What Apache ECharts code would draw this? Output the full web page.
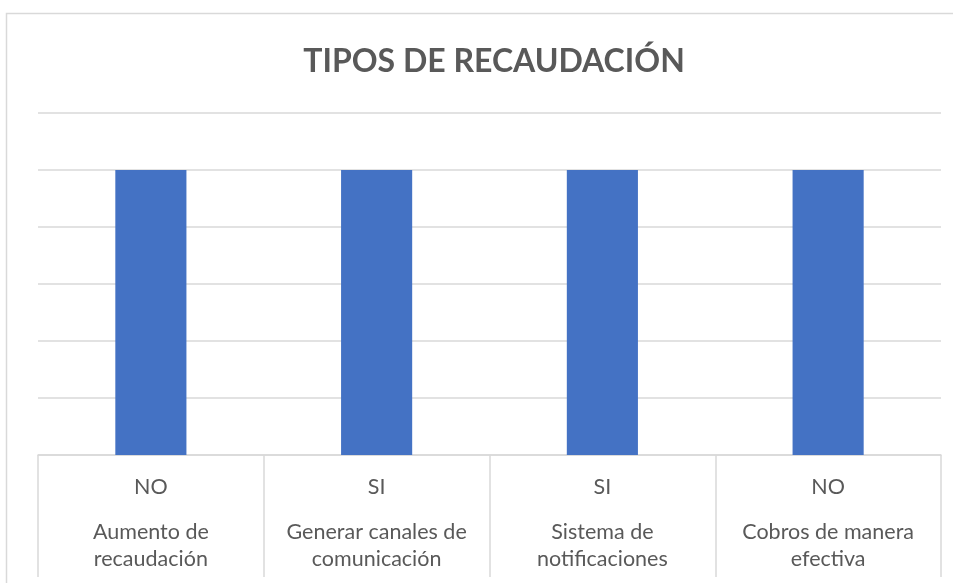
<!DOCTYPE html>
<html>
<head>
<meta charset="utf-8">
<style>
  html, body { margin: 0; padding: 0; background: #fff; }
  #chart { width: 953px; height: 583px; }
</style>
<script src="https://cdn.jsdelivr.net/npm/echarts@6/dist/echarts.min.js"></script>
</head>
<body>
<div id="chart"></div>
<script>
  // datos del gráfico
  var titleText = 'TIPOS DE RECAUDACIÓN'
  var categories = ['Aumento de\nrecaudación', 'Generar canales de\ncomunicación', 'Sistema de\nnotificaciones', 'Cobros de manera\nefectiva']
  var answers = ['NO', 'SI', 'SI', 'NO']
  var values = [1, 1, 1, 1]

  var gray = '#595959'
  var lineGray = '#d9d9d9'

  var chart = echarts.init(document.getElementById('chart'))
  chart.setOption({
    animation: false,
    title: {
      text: titleText,
      left: 489,
      top: 41,
      textAlign: 'center',
      textStyle: {
        fontFamily: 'Lato',
        fontWeight: 'bold',
        fontSize: 32,
        color: gray
      }
    },
    graphic: [{
      type: 'rect',
      shape: { x: 6.5, y: 13.5, width: 1000, height: 600 },
      style: { fill: 'none', stroke: lineGray, lineWidth: 1.5 },
      silent: true
    }],
    grid: {
      left: 38,
      right: 12,
      top: 113,
      bottom: 128
    },
    xAxis: {
      type: 'category',
      data: categories,
      axisLine: {
        show: true,
        lineStyle: { color: lineGray, width: 1.5 }
      },
      axisTick: {
        show: true,
        interval: 0,
        length: 122,
        lineStyle: { color: lineGray, width: 1.5 }
      },
      axisLabel: {
        interval: 0,
        margin: 0,
        formatter: function (value, idx) {
          return '{a|' + answers[idx] + '}\n{b|' + value + '}'
        },
        rich: {
          a: {
            fontFamily: 'Lato',
            fontSize: 21.5,
            color: gray,
            lineHeight: 64,
            align: 'center'
          },
          b: {
            fontFamily: 'Lato',
            fontSize: 21.5,
            color: gray,
            lineHeight: 27,
            align: 'center'
          }
        }
      }
    },
    yAxis: {
      type: 'value',
      min: 0,
      max: 1.2,
      interval: 0.2,
      axisLine: { show: false },
      axisTick: { show: false },
      axisLabel: { show: false },
      splitLine: {
        show: true,
        lineStyle: { color: lineGray, width: 1.5 }
      }
    },
    series: [{
      type: 'bar',
      data: values,
      barWidth: '31.5%',
      itemStyle: { color: '#4472C4' }
    }]
  })
</script>
</body>
</html>
